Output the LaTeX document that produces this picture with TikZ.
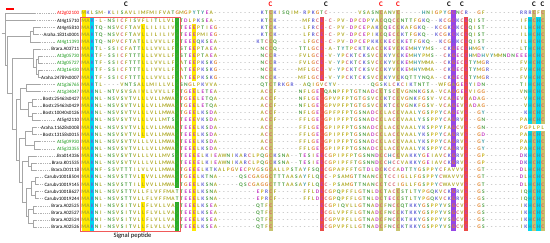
\documentclass[tikz,border=0pt]{standalone}
\usepackage{fontspec}
\setmainfont{Carlito}
\usepackage{tikz}
\usepackage{xcolor}
\definecolor{hlyel}{RGB}{255,232,0}
\definecolor{hlcyan}{RGB}{0,215,240}
\definecolor{hlgreen}{RGB}{40,175,40}
\definecolor{hlolive}{RGB}{200,195,110}
\definecolor{hlred}{RGB}{235,75,70}
\definecolor{hlpurple}{RGB}{150,70,230}
\definecolor{boxred}{RGB}{240,90,90}
\definecolor{atgreen}{RGB}{20,150,20}
\definecolor{gapc}{RGB}{165,165,165}
\definecolor{rhyd}{RGB}{175,170,40}
\definecolor{rpol}{RGB}{80,160,70}
\definecolor{rbas}{RGB}{100,100,215}
\definecolor{racd}{RGB}{195,60,195}
\definecolor{rgly}{RGB}{225,130,40}
\definecolor{rpro}{RGB}{200,180,30}
\definecolor{rcys}{RGB}{215,100,110}
\definecolor{raro}{RGB}{50,150,160}
\colorlet{aaA}{rhyd}\colorlet{aaI}{rhyd}\colorlet{aaL}{rhyd}\colorlet{aaM}{rhyd}
\colorlet{aaF}{rhyd}\colorlet{aaV}{rhyd}\colorlet{aaW}{rhyd}
\colorlet{aaS}{rpol}\colorlet{aaT}{rpol}\colorlet{aaN}{rpol}\colorlet{aaQ}{rpol}
\colorlet{aaK}{rbas}\colorlet{aaR}{rbas}\colorlet{aaD}{racd}\colorlet{aaE}{racd}
\colorlet{aaG}{rgly}\colorlet{aaP}{rpro}\colorlet{aaC}{rcys}
\colorlet{aaH}{raro}\colorlet{aaY}{raro}
\newcommand{\alnw}{4.25pt}
\newcommand{\aln}[1]{\alnloop#1\relax}
\newcommand{\alnloop}[1]{\ifx\relax#1\else\alnres{#1}\expandafter\alnloop\fi}
\newcommand{\alnres}[1]{\makebox[\alnw][c]{\ifx-#1\textcolor{gapc}{-}\else\textcolor{aa#1}{#1}\fi}}
\newcommand{\hlcol}[4]{\fill[#1] ({81.5+4.25*#2},{9.73+7.13*(#3-1)}) rectangle ({85.75+4.25*#2},{16.87+7.13*(#4-1)});}

\begin{document}
\begin{tikzpicture}[
  x=1pt, y=-1pt,
  branch/.style={draw=gray!70,line width=0.5pt},
  leader/.style={draw=gray!60,line width=0.5pt,dash pattern=on 0.5pt off 1.3pt},
  lab/.style={anchor=east,inner sep=0pt,text height=3.3pt,text depth=0pt,
    font=\fontsize{5}{6}\selectfont},
  seq/.style={anchor=west,inner sep=0pt,text height=3.3pt,text depth=0pt,
    font=\fontsize{5.4}{6}\selectfont\bfseries},
  cmark/.style={inner sep=0pt,font=\fontsize{7}{8}\selectfont\bfseries},
  pepbox/.style={draw=boxred,line width=0.8pt}
]
  \useasboundingbox (0,0) rectangle (550,242);

  \hlcol{hlyel}{0}{1}{31}
  \hlcol{hlyel}{1}{2}{31}
  \hlcol{hlcyan}{2}{2}{31}
  \hlcol{hlyel}{14}{3}{18}
  \hlcol{hlyel}{14}{24}{25}
  \hlcol{hlyel}{14}{28}{31}
  \hlcol{hlgreen}{22}{2}{25}
  \hlcol{hlgreen}{22}{28}{31}
  \hlcol{hlyel}{26}{3}{10}
  \hlcol{hlyel}{26}{12}{31}
  \hlcol{hlolive}{44}{1}{31}
  \hlcol{hlred}{56}{2}{10}
  \hlcol{hlred}{56}{12}{31}
  \hlcol{hlolive}{70}{1}{10}
  \hlcol{hlolive}{70}{12}{31}
  \hlcol{hlolive}{74}{1}{10}
  \hlcol{hlolive}{74}{12}{21}
  \hlcol{hlolive}{74}{26}{31}
  \hlcol{hlpurple}{87}{1}{22}
  \hlcol{hlpurple}{87}{26}{31}
  \hlcol{hlred}{90}{2}{31}
  \hlcol{hlcyan}{105}{2}{16}
  \hlcol{hlcyan}{105}{18}{31}
  \hlcol{hlolive}{106}{1}{16}
  \hlcol{hlolive}{106}{18}{31}
  \hlcol{hlcyan}{107}{2}{16}
  \hlcol{hlcyan}{107}{18}{31}
  \hlcol{hlolive}{108}{1}{16}
  \hlcol{hlolive}{108}{18}{31}
  \draw[pepbox] (80,16.9) rectangle (180.3,230.9);

  \node[cmark] (c1) at (126.1,4.5) {C};
  \node[cmark,text=red] (c2) at (270.6,4.5) {C};
  \node[cmark] (c3) at (325.9,4.5) {C};
  \node[cmark,text=red] (c4) at (381.1,4.5) {C};
  \node[cmark,text=red] (c5) at (398.1,4.5) {C};
  \node[cmark] (c6) at (449.1,4.5) {C};
  \node[cmark] (c7) at (461.9,4.5) {C};
  \node[cmark] (c8) at (534.1,4.5) {C};
  \node[cmark] (c9) at (542.6,4.5) {C};
  \draw[draw=red,line width=1.2pt] (6,9) -- (14,9);

  \node[lab,text=red] (l1) at (79.3,13.3) {At2g02100};
  \node[lab] (l2) at (79.3,20.4) {At4g15710};
  \node[lab] (l3) at (79.3,27.6) {At4g45810};
  \node[lab] (l4) at (79.3,34.7) {Araha.1831s0001};
  \node[lab,text=atgreen] (l5) at (79.3,41.8) {At4g11393};
  \node[lab] (l6) at (79.3,49.0) {Brara.A03711};
  \node[lab,text=atgreen] (l7) at (79.3,56.1) {At3g05730};
  \node[lab,text=atgreen] (l8) at (79.3,63.2) {At3g05727};
  \node[lab,text=atgreen] (l9) at (79.3,70.3) {At3g16430};
  \node[lab] (l10) at (79.3,77.5) {Araha.24789s0007};
  \node[lab,text=atgreen] (l11) at (79.3,84.6) {At1g36765};
  \node[lab,text=atgreen] (l12) at (79.3,91.7) {At1g34047};
  \node[lab] (l13) at (79.3,98.9) {Bostr.25463s0427};
  \node[lab] (l14) at (79.3,106.0) {Bostr.25463s0429};
  \node[lab] (l15) at (79.3,113.1) {Bostr.10040s0126};
  \node[lab] (l16) at (79.3,120.3) {At5g42110};
  \node[lab] (l17) at (79.3,127.4) {Araha.11628s0008};
  \node[lab] (l18) at (79.3,134.5) {Bostr.13158s0015};
  \node[lab,text=atgreen] (l19) at (79.3,141.6) {At5g09930};
  \node[lab,text=atgreen] (l20) at (79.3,148.8) {At5g33355};
  \node[lab] (l21) at (79.3,155.9) {Bra014336};
  \node[lab] (l22) at (79.3,163.0) {Brara.K01535};
  \node[lab] (l23) at (79.3,170.2) {Brara.D01118};
  \node[lab] (l24) at (79.3,177.3) {Carubv10018504};
  \node[lab] (l25) at (79.3,184.4) {Carubv10019145};
  \node[lab] (l26) at (79.3,191.6) {Carubv10018627};
  \node[lab] (l27) at (79.3,198.7) {Carubv10019244};
  \node[lab] (l28) at (79.3,205.8) {Brara.A02525};
  \node[lab] (l29) at (79.3,212.9) {Brara.A02527};
  \node[lab] (l30) at (79.3,220.1) {Brara.A02524};
  \node[lab] (l31) at (79.3,227.2) {Brara.A02526};

  \node[seq] (s1) at (81.5,13.3) {\aln{MKLSM-KLISAVLIMFMIFVATG MGPYTYEA-----------KT C KISQIM-RPKG T C-------VSASN C ANV C -----HNIGPYG C NC R --GF--------RR RCFC}};
  \node[seq] (s2) at (81.5,20.4) {\aln{MAK-L-NSICFISVFLITLLVLS TDLPKSEA-----------KT C K------MFRC E -C-PV-DPCDPYA C QQC C NTTFGKQ--KCG C KC E QIST--------IF HCHC}};
  \node[seq] (s3) at (81.5,27.6) {\aln{MAKTQ-NSVCFTAVLLILILIVS TEEEPTIEG----------KT C K------LFRC E -C-PV-DPCEPAK C QEC C KAFGKQ--KCGK C KC E QIST--------IL HCHC}};
  \node[seq] (s4) at (81.5,34.7) {\aln{MAKTQ-NSVCFTAVLLILILIVS TEEEPMIEG----------KT C K------LFRC E -C-PV-DPCEPIK C QEC C KTFGKQ--KCGK C KC E QIST--------IL HCHC}};
  \node[seq] (s5) at (81.5,41.8) {\aln{MAKTQ-NPVCFTATLLLVVLLFS TEEEQKSEA---------KTC C Q------LFGC E -C-PV-DPCEPKK C KEC C KETFGKQ--KCG K KC E QIST--------IL HCHC}};
  \node[seq] (s6) at (81.5,49.0) {\aln{MAKTL-SSICFATTLLLVVLLFS STEEPTAEA----------NC C Q-----TTLGC E -A-TYTPCKTKAC C KEV C KEMHYYMS--CK G EC E HMGY--------LT HCHC}};
  \node[seq] (s7) at (81.5,56.1) {\aln{MAKTF-SSICFTTTLLLVVLLFS STEEPTAEA----------NC C R-----FVLGC E -V-YPCKTCKSVC C KYV C KEMHYPMS--CK G EC E HMDHVYMMNDNEEE HCHC}};
  \node[seq] (s8) at (81.5,63.2) {\aln{MAKTF-SSICFTTTLLLVVLLFS ATEEPKSKG----------NC C R-----FVLGC E -V-YPCKTCKSVC C KYV C KEMHYMMA--CK G EC E TYMGR-------FV HCHC}};
  \node[seq] (s9) at (81.5,70.3) {\aln{MAKTF-SSICFTTTLLIVVLLFS ATEEPKSKG----------NC C K-----MFLGC E -V-YPCKTCKSVC C KYV C KEMHYMMA--CK G EC E TYMGR-------FV HCHC}};
  \node[seq] (s10) at (81.5,77.5) {\aln{MAKTF-SSICFTTTLLLVVLLFS ATEEPKSKG----------NC C K-----MFLGC E -V-YPCKTCKSVC C KYV C KQTTYNQA--CK G EC E TYMGR-------FV HCHC}};
  \node[seq] (s11) at (81.5,84.6) {\aln{MAKTL----VNTSALLMILLVLS SNGLPKVVA----------QT C TRKGR--AQIG V CYV--------QG S KLC K CIKTNTT--WFG A GE E YIDN--------TI HCHC}};
  \node[seq] (s12) at (81.5,91.7) {\aln{MAKNL-NTVSVSAIVLLVVLLFS TGEELETEA----------AC C F-----NFLGE C QANPFPTGTNADC C TSC C VGNNKGSA-VCA G GE E VIGG--------VN HCHC}};
  \node[seq] (s13) at (81.5,98.9) {\aln{MAKNL-NSVSVTVLLLVLLMWAS TGEELETQA----------AC C F-----NFLGE C GPVPFPTGTGSVC C KTC C VGNKFGSV-VCA G EV E ADAG---------V HCHC}};
  \node[seq] (s14) at (81.5,106.0) {\aln{MAKNL-NSVSVTVLLLVLLMWAS TGEELETQA----------AC C F-----NFLGE C GPVPFPTGTGSVC C KTC C VGNKFGSV-VCA G EV E ADAG---------V HCHC}};
  \node[seq] (s15) at (81.5,113.1) {\aln{MAKNL-NSVSVTVLLLVLLMWAS TGEELKSDA----------AC C F-----NFLGE C GPFPFPTGSNADC C LAC C VAALYGSPPYCA G EV E --GY---------K HCHC}};
  \node[seq] (s16) at (81.5,120.3) {\aln{MAKNL-NSVSVTVLLLVLLMTSS TEEEVKSDA----------AC C F-----FFLGE C GPIPFPTGSNADC C LAC C VAALYSSPPYCA G RV E --GN--------PA HCHC}};
  \node[seq] (s17) at (81.5,127.4) {\aln{MAKNL-NSVSVTVLLLVLLMWAS TEEELKSDA----------AC C ------FFLGE C GPIPFPTGSNADC C LAC C VAALYKSPPYFA G CV E --GN--------PG PLPL}};
  \node[seq] (s18) at (81.5,134.5) {\aln{MAKNL-NSVSVTVLLLVLLMWAS TEEELKSDA----------AC C ------FFLGE C GPIPFPTGSNADC C LAC C VAALYKSPPYCA G RV E --GD--------PA HCHC}};
  \node[seq] (s19) at (81.5,141.6) {\aln{MAKNL-NSVSVTVLLLVLLMWAS TEEELKSDA----------AC C ------FFLGE C GPIPFPTGSNADC C LAC C VAALYKSPPYCA G RV E --GY--------PA HCHC}};
  \node[seq] (s20) at (81.5,148.8) {\aln{MAKNL-NSVSVTVLLLVLLMWAS TEEELKSDA----------AC C ------FFLGE C GPIPFPTGSNADC C LAC C VAALYKSPPYCA G RV E --GY--------PA HCHC}};
  \node[seq] (s21) at (81.5,155.9) {\aln{MAKNL-NSVSVTVLLLVLLMVSS TEEEELKIEAWNIKARCLPQG C KSNA--TESIE E CGPIPFPTGSNND C CHC C VAKKYGEIAVCK G RV E --GP--------DK HCHC}};
  \node[seq] (s22) at (81.5,163.0) {\aln{MAKNL-NSVSVTVLLLVLLMWAS TEEEELKIEAWNIKARCLPQG C KSNA--TESIE E CGPIPFFTGSNND C CHC C VAKKYGEIAVCK G RV E --GP--------DK HCHC}};
  \node[seq] (s23) at (81.5,170.2) {\aln{MAKNF-SSVTTTILVLVLLMWAS TGEEELKTKALPGVECPVGSG C ALLPSTAYFSQ E CGPAPFFTGTDLD C KCC A DTTYGSPPYCFA V VV E --GT--------DL HCHC}};
  \node[seq] (s24) at (81.5,177.3) {\aln{MAKNL-NSVSTTVLLVVLLMWAS TGEELKTNA-----QSCGAGG C TTTAASAYFLQ E C-PSAMGTTNANC C TCC I GLLFGSPPYCWA V VV E --GT--------DL HCHC}};
  \node[seq] (s25) at (81.5,184.4) {\aln{MAKNL-NSVSTTILLVVLLMWAS TGEELKSNA-----QSCGAGG C TTTAASAYFLQ E C-PSAMGTTNANC C TCC I GLLFGSPPYCWA V VV E --GT--------DL HCHC}};
  \node[seq] (s26) at (81.5,191.6) {\aln{MAKNL-NSVSTTVLLFLVFFMAT TEEELKSNA---------EPR C F------FFLD E CGPQPFFLGTNLD C TAC C STLTYPGQKVCK G RV E --GS--------IQ HCHC}};
  \node[seq] (s27) at (81.5,198.7) {\aln{MAKNL-NSVSTTVLLFLVFFMAT TEEELKSNA---------EPR C F------FFLD E CGPQPFFLGTNLD C TEC C STLTYPGQKVCK G RV E --GS--------IQ HCHC}};
  \node[seq] (s28) at (81.5,205.8) {\aln{MAKNI-NSVSITVLLFLVLLVAS TEEELKSEA---------QTF C ----------- E CGPIQVLLGTNAD C FNC C QTKKYGSPPYVS G CV E --GS--------IK HCHC}};
  \node[seq] (s29) at (81.5,212.9) {\aln{MAKNI-NSVSITVLLFLVLLVAS TEEELKSEA---------QTF C ----------- E CGLVPFFLGTNAD C FNC C KTKKYGSPPYVS G CV E --GS--------IK HCHC}};
  \node[seq] (s30) at (81.5,220.1) {\aln{MAKNI-NSVSITVLLFLVLLVAS TEEELKSEA---------QTF C ----------- E CGPVPFLLGTNAD C FNC C KTKKYGSPPYVS G CV E --GS--------IK HCHC}};
  \node[seq] (s31) at (81.5,227.2) {\aln{MAKNI-NSVSITVLLFLVLLVAS TEEELKSEA---------QTF C ----------- E CGPVPFLLGTNAD C FNC C KTKKYGSPPYVS G CV E --GS--------IK HCHC}};

  \node[font=\fontsize{6.6}{7}\selectfont] (sp) at (132.5,235.8) {Signal peptide};

  \coordinate (t1) at (35,13.3);  \coordinate (t2) at (35,20.4);
  \coordinate (t3) at (40,27.6);  \coordinate (t4) at (38,34.7);
  \coordinate (t5) at (40,41.8);  \coordinate (t6) at (40,49.0);
  \coordinate (t7) at (42,56.1);  \coordinate (t8) at (42,63.2);
  \coordinate (t9) at (42,70.3);  \coordinate (t10) at (40,77.5);
  \coordinate (t11) at (40,84.6); \coordinate (t12) at (40,91.7);
  \coordinate (t13) at (36,98.9); \coordinate (t14) at (36,106.0);
  \coordinate (t15) at (36,113.1); \coordinate (t16) at (40,120.3);
  \coordinate (t17) at (36,127.4); \coordinate (t18) at (36,134.5);
  \coordinate (t19) at (40,141.6); \coordinate (t20) at (40,148.8);
  \coordinate (t21) at (36,155.9); \coordinate (t22) at (36,163.0);
  \coordinate (t23) at (36,170.2); \coordinate (t24) at (38,177.3);
  \coordinate (t25) at (38,184.4); \coordinate (t26) at (38,191.6);
  \coordinate (t27) at (38,198.7); \coordinate (t28) at (36,205.8);
  \coordinate (t29) at (36,212.9); \coordinate (t30) at (36,220.1);
  \coordinate (t31) at (36,227.2);

  \coordinate (root) at (1.7,33);   \coordinate (n0) at (5,33);
  \coordinate (nrest) at (7.3,65.1); \coordinate (n35) at (30,36.5);
  \coordinate (n34) at (33,31.1);   \coordinate (n631) at (12,93.7);
  \coordinate (n610) at (33,57.9);  \coordinate (n710) at (36,66.8);
  \coordinate (n78) at (38,59.6);   \coordinate (n910) at (38,73.9);
  \coordinate (n1131) at (16,129.5); \coordinate (n1116) at (20,98.9);
  \coordinate (n1112) at (26,88.2); \coordinate (n1316) at (28,109.6);
  \coordinate (n1314) at (32,102.4); \coordinate (n1516) at (32,116.7);
  \coordinate (n1731) at (19,160);  \coordinate (n1720) at (25,138.1);
  \coordinate (n1718) at (32,131.0); \coordinate (n1920) at (34,145.2);
  \coordinate (n2131) at (22,181.8); \coordinate (n2123) at (28,161.3);
  \coordinate (n2223) at (31,166.6); \coordinate (n2431) at (26,202.3);
  \coordinate (n2427) at (31,188.0); \coordinate (n2425) at (35,180.9);
  \coordinate (n2627) at (35,195.1); \coordinate (n2831) at (28,216.5);
  \coordinate (n2829) at (33,209.4); \coordinate (n3031) at (33,223.6);

  \draw[branch] (root) -- (n0);
  \draw[branch] (t1) -| (n0 |- nrest) -- (nrest);
  \draw[branch] (n0 |- t2) -- (t2);
  \draw[branch] (n35) -| (nrest |- n631) -- (n631);
  \draw[branch] (n34) -| (n35 |- t5) -- (t5);
  \draw[branch] (t3) -| (n34 |- t4) -- (t4);
  \draw[branch] (n610) -| (n631 |- n1131) -- (n1131);
  \draw[branch] (t6) -| (n610 |- n710) -- (n710);
  \draw[branch] (n78) -| (n710 |- n910) -- (n910);
  \draw[branch] (t7) -| (n78 |- t8) -- (t8);
  \draw[branch] (t9) -| (n910 |- t10) -- (t10);
  \draw[branch] (n1116) -| (n1131 |- n1731) -- (n1731);
  \draw[branch] (n1112) -| (n1116 |- n1316) -- (n1316);
  \draw[branch] (t11) -| (n1112 |- t12) -- (t12);
  \draw[branch] (n1314) -| (n1316 |- n1516) -- (n1516);
  \draw[branch] (t13) -| (n1314 |- t14) -- (t14);
  \draw[branch] (t15) -| (n1516 |- t16) -- (t16);
  \draw[branch] (n1720) -| (n1731 |- n2131) -- (n2131);
  \draw[branch] (n1718) -| (n1720 |- n1920) -- (n1920);
  \draw[branch] (t17) -| (n1718 |- t18) -- (t18);
  \draw[branch] (t19) -| (n1920 |- t20) -- (t20);
  \draw[branch] (n2123) -| (n2131 |- n2431) -- (n2431);
  \draw[branch] (t21) -| (n2123 |- n2223) -- (n2223);
  \draw[branch] (t22) -| (n2223 |- t23) -- (t23);
  \draw[branch] (n2427) -| (n2431 |- n2831) -- (n2831);
  \draw[branch] (n2425) -| (n2427 |- n2627) -- (n2627);
  \draw[branch] (t24) -| (n2425 |- t25) -- (t25);
  \draw[branch] (t26) -| (n2627 |- t27) -- (t27);
  \draw[branch] (n2829) -| (n2831 |- n3031) -- (n3031);
  \draw[branch] (t28) -| (n2829 |- t29) -- (t29);
  \draw[branch] (t30) -| (n3031 |- t31) -- (t31);

  \foreach \i in {1,...,31}
    \draw[leader] (t\i) -- ([xshift=-1pt]l\i.west);
\end{tikzpicture}
\end{document}
